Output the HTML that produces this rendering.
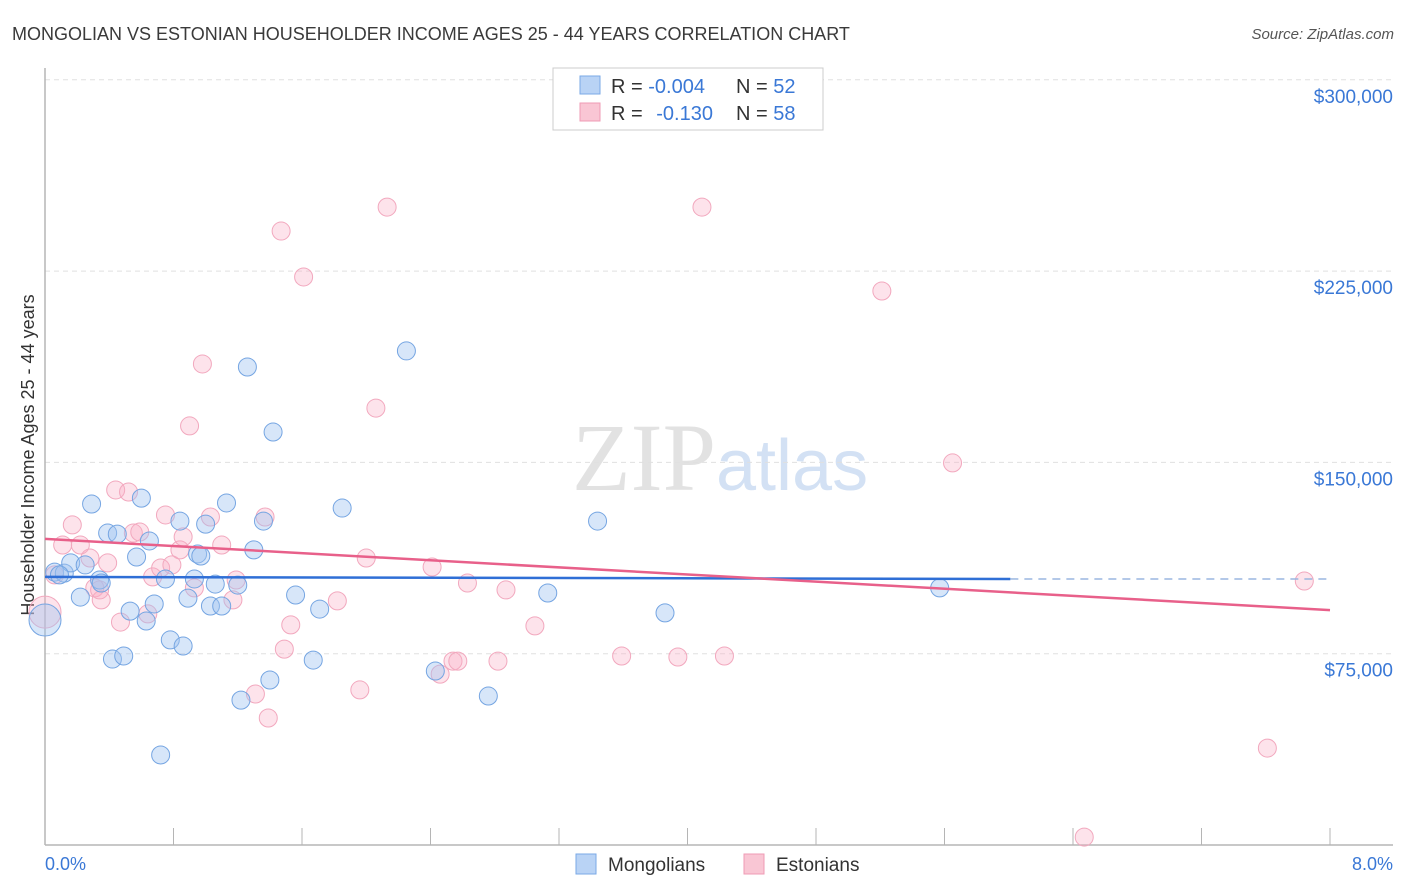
<!DOCTYPE html>
<html><head><meta charset="utf-8"><style>
body{margin:0;background:#fff;font-family:"Liberation Sans",sans-serif}
#c{position:relative;width:1406px;height:892px;overflow:hidden}
svg{position:absolute;left:0;top:0}
</style></head><body>
<div id="c">
<svg id="s" width="1406" height="892">
<text x="12" y="40" font-size="18" fill="#3a3a3a">MONGOLIAN VS ESTONIAN HOUSEHOLDER INCOME AGES 25 - 44 YEARS CORRELATION CHART</text>
<text x="1394" y="39" font-size="15" fill="#555" font-style="italic" text-anchor="end">Source: ZipAtlas.com</text>
<text x="716" y="490" font-size="96" fill="#e2e2e2" text-anchor="end" font-family="Liberation Serif">ZIP</text>
<text x="716" y="490" font-size="72" fill="#d3e1f4">atlas</text>
<text transform="translate(34,455) rotate(-90)" font-size="18" fill="#333" text-anchor="middle">Householder Income Ages 25 - 44 years</text>
<g id="grid"></g><g id="pts"></g><g id="trend"></g>
<g>
<rect x="553" y="68" width="270" height="62" fill="#fff" stroke="#ccc"/>
<rect x="580" y="76" width="20" height="18" fill="#b9d3f5" stroke="#7aa8e6"/>
<rect x="580" y="103" width="20" height="18" fill="#f9c6d4" stroke="#ef9bb5"/>
<text x="611" y="93" font-size="20" fill="#333">R = <tspan fill="#3a78d6">-0.004</tspan></text>
<text x="736" y="93" font-size="20" fill="#333">N = <tspan fill="#3a78d6">52</tspan></text>
<text x="611" y="120" font-size="20" fill="#333">R = <tspan fill="#3a78d6" dx="8">-0.130</tspan></text>
<text x="736" y="120" font-size="20" fill="#333">N = <tspan fill="#3a78d6">58</tspan></text>
</g>
<g>
<rect x="576" y="854" width="20" height="20" fill="#b9d3f5" stroke="#7aa8e6"/>
<text x="608" y="871" font-size="19" fill="#333">Mongolians</text>
<rect x="744" y="854" width="20" height="20" fill="#f9c6d4" stroke="#ef9bb5"/>
<text x="776" y="871" font-size="19" fill="#333">Estonians</text>
</g>
<text x="45" y="870" font-size="18" fill="#3a78d6">0.0%</text>
<text x="1393" y="870" font-size="18" fill="#3a78d6" text-anchor="end">8.0%</text>
</svg></div>
<script>
const yTicks=[75000,150000,225000,300000];
const yTickLabels=["$75,000","$150,000","$225,000","$300,000"];
const mongX=[0,0.06,0.12,0.16,0.22,0.25,0.29,0.34,0.39,0.42,0.45,0.49,0.53,0.57,0.60,0.63,0.65,0.68,0.72,0.75,0.78,0.84,0.86,0.89,0.93,0.95,1.00,1.03,1.06,1.10,1.13,1.20,1.22,1.26,1.30,1.36,1.40,1.42,1.56,1.67,1.71,1.85,2.25,2.43,2.76,3.13,3.44,3.86,5.57,0.09,0.35,0.97];
const mongY=[88.2,107.0,106.6,110.6,97.2,109.8,133.7,103.9,122.3,72.9,121.9,74.1,91.7,112.9,136.0,87.8,119.2,94.5,35.3,104.3,80.4,127.0,78.0,96.8,104.3,114.1,125.8,93.7,102.3,93.7,134.1,101.9,56.8,187.4,115.7,127.0,64.7,161.9,98.0,72.5,92.5,132.1,193.7,68.2,58.4,98.8,127.0,91.0,100.8,105.9,102.7,113.3];
const estX=[0,0.06,0.11,0.17,0.22,0.28,0.31,0.35,0.39,0.44,0.47,0.52,0.55,0.59,0.64,0.67,0.72,0.75,0.79,0.84,0.86,0.90,0.93,0.98,1.03,1.10,1.17,1.19,1.31,1.37,1.39,1.47,1.49,1.53,1.61,1.82,1.96,2.00,2.06,2.13,2.41,2.46,2.54,2.57,2.63,2.82,2.87,3.05,3.59,3.94,4.09,4.23,5.21,5.65,6.47,7.61,7.84,0.34];
const estY=[91.3,105.9,117.6,125.5,117.6,112.5,100.8,96.1,110.6,139.2,87.4,138.4,122.3,122.7,90.6,105.1,108.6,129.4,109.8,115.7,120.8,164.3,100.8,188.6,128.6,117.6,96.1,103.9,59.2,128.6,49.8,240.7,76.8,86.3,222.7,95.7,60.8,112.5,171.3,250.1,109.0,67.0,72.1,72.1,102.7,72.1,100.0,85.9,74.1,73.7,250.1,74.1,217.2,149.8,3.1,38.0,103.5,100.0];
const mongTrend=[[0,105.1],[6.01,104.3],[8,104.3]];
const estTrend=[[0,120.0],[8,92.1]];
const X=v=>45+v/8*1285, Y=k=>845-k*1000/75000*191.3;
const NS="http://www.w3.org/2000/svg";
function mk(tag,attrs,parent){const e=document.createElementNS(NS,tag);for(const k in attrs)e.setAttribute(k,attrs[k]);parent.appendChild(e);return e;}
const g=document.getElementById('grid');
yTicks.forEach((t,i)=>{
 const l=mk('line',{x1:45,x2:1393,y1:Y(t/1000),y2:Y(t/1000),stroke:'#e0e0e0','stroke-dasharray':'5,4'},g);
 
 
 const tx=mk('text',{x:1393,y:Y(t/1000)+23,'font-size':19,fill:'#3a78d6','text-anchor':'end'},g);
 tx.textContent=yTickLabels[i];
 
 
});
const ax=mk('line',{x1:45,x2:45,y1:68,y2:845,stroke:'#b5b5b5','stroke-width':1.5},g);


const bx=mk('line',{x1:45,x2:1393,y1:845,y2:845,stroke:'#b5b5b5','stroke-width':1.5},g);


for(let i=0;i<=10;i++){const t=mk('line',{x1:X(i*0.8),x2:X(i*0.8),y1:828,y2:845,stroke:'#b5b5b5'},g);
 
 }
const p=document.getElementById('pts');
function draw(xs,ys,fill,stroke,name){xs.forEach((x,i)=>{
 const c=mk('circle',{cx:X(x),cy:Y(ys[i]),r:i==0?16:9,fill:fill,stroke:stroke,'stroke-width':1},p);
 
 });}
draw(estX,estY,'rgba(248,175,198,0.35)','#f2a8be','estonian-point');
draw(mongX,mongY,'rgba(160,195,240,0.42)','#75a5e2','mongolian-point');
const tr=document.getElementById('trend');
let l1=mk('line',{x1:X(mongTrend[0][0]),y1:Y(mongTrend[0][1]),x2:X(mongTrend[1][0]),y2:Y(mongTrend[1][1]),stroke:'#2f6fd6','stroke-width':2.5},tr);


let l2=mk('line',{x1:X(mongTrend[1][0]),y1:Y(mongTrend[1][1]),x2:X(mongTrend[2][0]),y2:Y(mongTrend[2][1]),stroke:'#9ab6e0','stroke-width':1.5,'stroke-dasharray':'8,6'},tr);


let l3=mk('line',{x1:X(estTrend[0][0]),y1:Y(estTrend[0][1]),x2:X(estTrend[1][0]),y2:Y(estTrend[1][1]),stroke:'#e8608a','stroke-width':2.5},tr);


</script>
</body></html>
